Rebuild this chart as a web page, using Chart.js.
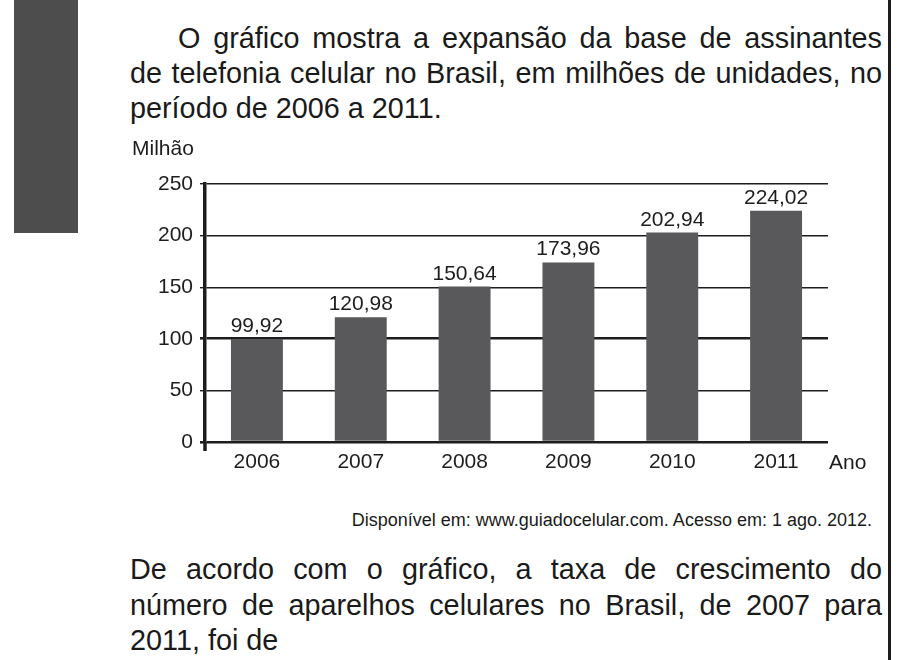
<!DOCTYPE html>
<html>
<head>
<meta charset="utf-8">
<script src="https://cdn.jsdelivr.net/npm/chart.js@4.4.1/dist/chart.umd.min.js"></script>
<style>
  html, body { margin: 0; padding: 0; background: #fff; }
  body { width: 901px; height: 660px; position: relative; overflow: hidden;
         font-family: "Liberation Sans", Arial, sans-serif; color: #1a1a1a; }
  #chartBox { position: absolute; left: 0; top: 0; width: 901px; height: 660px; }
  .tab { position: absolute; left: 14px; top: 0; width: 64px; height: 233px; background: #4d4d4d; }
  .rule { position: absolute; left: 888px; top: 0; width: 3px; height: 660px; background: #1d1d1d; }
  .para { position: absolute; left: 130px; width: 752px; font-size: 28.8px; }
  .para div { text-align: justify; text-align-last: justify; white-space: nowrap; }
  .para div.last { text-align-last: left; }
  #p1 { top: 21px; line-height: 35px; }
  #p1 div.first { text-indent: 48px; }
  #p2 { top: 552px; line-height: 35.5px; }
  #src { position: absolute; right: 29px; top: 509px; font-size: 18px; line-height: 22px; }
</style>
</head>
<body>
<div class="tab"></div>
<div class="rule"></div>

<div class="para" id="p1">
  <div class="first">O gráfico mostra a expansão da base de assinantes</div>
  <div>de telefonia celular no Brasil, em milhões de unidades, no</div>
  <div class="last">período de 2006 a 2011.</div>
</div>

<div id="src">Disponível em: www.guiadocelular.com. Acesso em: 1 ago. 2012.</div>

<div class="para" id="p2">
  <div>De acordo com o gráfico, a taxa de crescimento do</div>
  <div>número de aparelhos celulares no Brasil, de 2007 para</div>
  <div class="last">2011, foi de</div>
</div>

<div id="chartBox"><canvas id="chart"></canvas></div>

<script>
// assinantes de telefonia celular, milhões
const anos = ["2006", "2007", "2008", "2009", "2010", "2011"];
const assinantes = [99.92, 120.98, 150.64, 173.96, 202.94, 224.02];
const yTicks = [0, 50, 100, 150, 200, 250];

const INK = "#1d1d1d";
const BAR = "#59595b";
const FONT = "'Liberation Sans', Arial, sans-serif";

const fmt = (v) => v.toFixed(2).replace(".", ",");

// value labels, axis titles and the small y-axis stub below zero
const extras = {
  id: "extras",
  afterDatasetsDraw(chart) {
    const ctx = chart.ctx;
    const area = chart.chartArea;
    const meta = chart.getDatasetMeta(0);
    ctx.save();
    ctx.fillStyle = INK;
    ctx.font = "21px " + FONT;
    ctx.textAlign = "center";
    ctx.textBaseline = "alphabetic";
    meta.data.forEach((bar, i) => {
      ctx.fillText(fmt(assinantes[i]), bar.x, bar.y - 7);
    });

    // "Milhão" above the y axis
    ctx.textAlign = "left";
    ctx.textBaseline = "middle";
    ctx.fillText("Milhão", 132, area.top - 35);

    // "Ano" right of the x axis labels
    ctx.fillText("Ano", area.right + 1, area.bottom + 21);

    // y axis runs a bit below the baseline
    ctx.strokeStyle = INK;
    ctx.lineWidth = 3.5;
    ctx.beginPath();
    ctx.moveTo(area.left, area.bottom);
    ctx.lineTo(area.left, area.bottom + 9);
    ctx.stroke();
    ctx.restore();
  }
};

window.addEventListener("DOMContentLoaded", () => {
  const ctx = document.getElementById("chart").getContext("2d");
  new Chart(ctx, {
    type: "bar",
    data: {
      labels: anos,
      datasets: [{
        data: assinantes,
        backgroundColor: BAR,
        borderWidth: 0,
        barPercentage: 0.5,
        categoryPercentage: 1.0
      }]
    },
    options: {
      responsive: true,
      maintainAspectRatio: false,
      animation: false,
      devicePixelRatio: 1,
      layout: { padding: { left: 105, right: 73, top: 184, bottom: 178 } },
      plugins: { legend: { display: false }, tooltip: { enabled: false } },
      scales: {
        x: {
          grid: { display: false, drawTicks: false },
          border: { display: false },
          ticks: { color: INK, font: { family: FONT, size: 21 }, padding: 8 },
          afterFit: (s) => { s.height = 40; }
        },
        y: {
          min: 0,
          max: 250,
          afterBuildTicks: (s) => { s.ticks = yTicks.map(v => ({ value: v })); },
          grid: {
            color: INK,
            lineWidth: (c) => (c.tick && (c.tick.value === 100 || c.tick.value === 0)) ? 2.6 : 1.4,
            tickLength: 5
          },
          border: { display: true, color: INK, width: 3.5 },
          ticks: { color: INK, font: { family: FONT, size: 21 }, padding: 7 },
          afterFit: (s) => { s.width = 100; }
        }
      }
    },
    plugins: [extras]
  });
});
</script>
</body>
</html>
